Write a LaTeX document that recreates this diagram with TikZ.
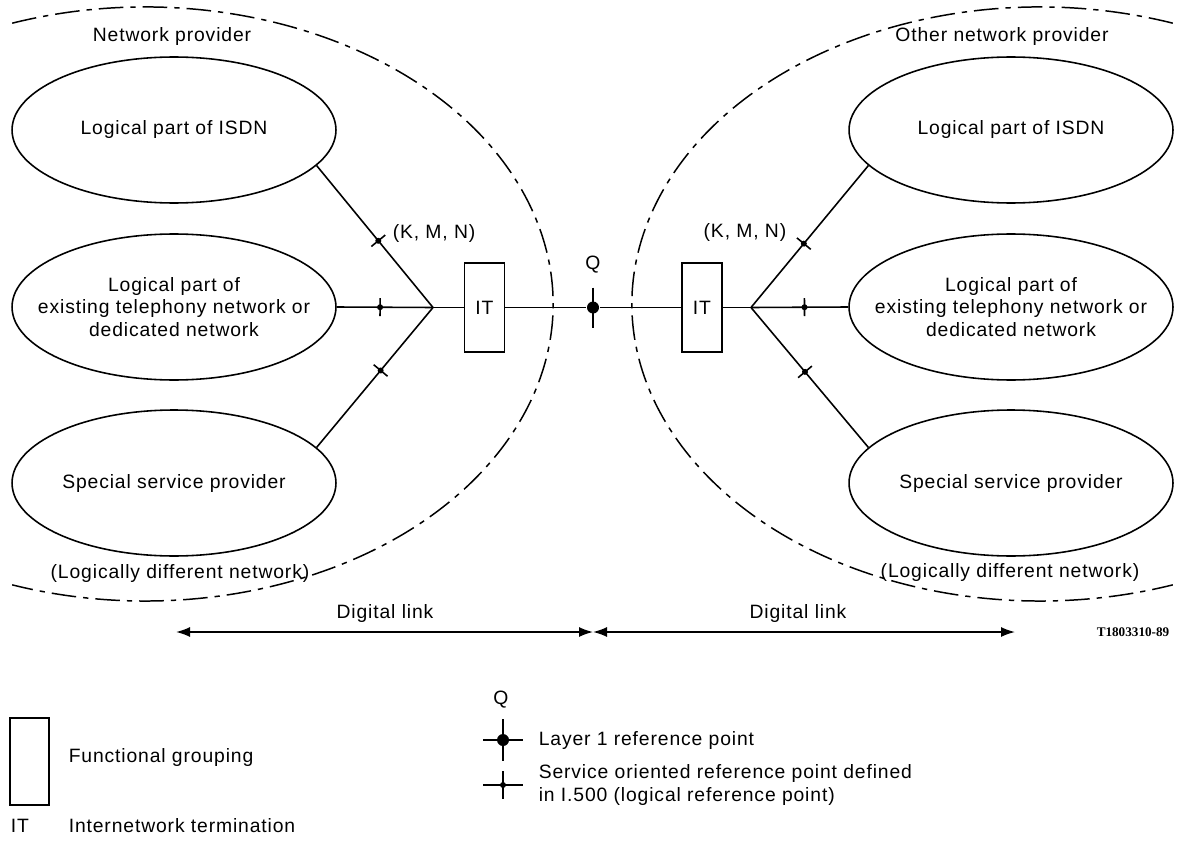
\documentclass[tikz,border=0pt]{standalone}
\usepackage{fontspec}
\setmainfont{Liberation Sans}[LetterSpace=4.5]
\newfontfamily\codefont{Liberation Serif}
\usetikzlibrary{shapes.geometric,arrows.meta}
\begin{document}
\begin{tikzpicture}[x=0.02cm,y=-0.02cm, line width=0.9pt,
  every node/.style={font=\fontsize{11}{12.8}\selectfont, inner sep=0pt},
  oval/.style={ellipse, draw, minimum width=6.48cm, minimum height=2.92cm},
  itbox/.style={draw, minimum width=0.8cm, minimum height=1.78cm},
  region/.style={dash pattern=on 14pt off 4pt on 3pt off 4pt, line width=0.85pt},
  srp/.pic={\draw[line width=0.9pt] (0,-0.18cm) -- (0,0.18cm); \fill (0,0) circle[radius=0.06cm];},
  qdot/.style={circle, fill, minimum size=0.24cm},
  dlink/.style={{Latex[length=0.28cm,width=0.2cm]}-{Latex[length=0.28cm,width=0.2cm]}}
]
\useasboundingbox (0,0) rectangle (1182,841);

% network regions
\draw[region] (12.2,23.2) arc[start angle=-109, end angle=109, x radius=408, y radius=297];
\draw[region] (1172.8,23.2) arc[start angle=-71, end angle=-289, x radius=408, y radius=297];
\node (npL) at (172,37) {Network provider};
\node (npR) at (1002,37) {Other network provider};
\node (ldL) at (180,573) {(Logically different network)};
\node (ldR) at (1010,572) {(Logically different network)};

% left network
\node[oval, label={[align=center]center:Logical part of ISDN}] (isdnL) at (174,130) {};
\node[oval, label={[align=center]center:Logical part of\\existing telephony network or\\dedicated network}] (telL) at (174,307) {};
\node[oval, label={[align=center]center:Special service provider}] (sspL) at (174,483) {};
% right network
\node[oval, label={[align=center]center:Logical part of ISDN}] (isdnR) at (1011,130) {};
\node[oval, label={[align=center]center:Logical part of\\existing telephony network or\\dedicated network}] (telR) at (1011,307) {};
\node[oval, label={[align=center]center:Special service provider}] (sspR) at (1011,483) {};

\node[itbox] (itL) at (484.5,307.5) {IT};
\node[itbox] (itR) at (702,307.5) {IT};
\coordinate (jL) at (433,307.5);
\coordinate (jR) at (751,307.5);
\node[qdot] (Q) at (593,307.5) {};
\node (qlab) at (593,265) {Q};

\draw (jL) -- (isdnL.-14.5) pic[pos=0.47,sloped]{srp};
\draw (jL) -- (telL.east) pic[pos=0.55,sloped]{srp};
\draw (jL) -- (sspL.14) pic[pos=0.45,sloped]{srp};
\draw (jR) -- (isdnR.194.5) pic[pos=0.45,sloped]{srp};
\draw (jR) -- (telR.west) pic[pos=0.55,sloped]{srp};
\draw (jR) -- (sspR.166) pic[pos=0.46,sloped]{srp};

\draw (jL) -- (itL.west);
\draw (itL.east) -- (Q) -- (itR.west);
\draw (itR.east) -- (jR);
\draw (Q.center) ++(0,-20) -- ++(0,40);

\node[anchor=west] (kmnL) at (392,233) {(K, M, N)};
\node[anchor=east] (kmnR) at (787,232) {(K, M, N)};

% digital links
\coordinate (dA) at (176,632);
\coordinate (dB) at (593,632);
\coordinate (dC) at (1015,632);
\draw[dlink] (dA) -- (dB);
\draw[dlink] (dB) -- (dC);
\node (dl1) at (385,613) {Digital link};
\node (dl2) at (798,613) {Digital link};
\node[font={\codefont\bfseries\fontsize{7.5}{9}\selectfont}] (code) at (1133,632) {T1803310-89};

% legend
\node[draw, minimum width=0.78cm, minimum height=1.74cm] (fg) at (29.5,761.5) {};
\node[anchor=west] (fgt) at (68,757) {Functional grouping};
\node[anchor=west] (itl) at (10,826) {IT};
\node[anchor=west] (itt) at (68,826) {Internetwork termination};

\node (qleg) at (501,700) {Q};
\node[qdot] (l1) at (503,740) {};
\draw (l1.center) ++(-20,0) -- ++(40,0);
\draw (l1.center) ++(0,-21) -- ++(0,42);
\node[anchor=west] (l1t) at (538,740) {Layer 1 reference point};
\coordinate (l2) at (503,785);
\draw (l2) ++(-20,0) -- ++(40,0);
\draw (l2) ++(0,-14) -- ++(0,28);
\fill (l2) circle[radius=0.06cm];
\node[anchor=west, align=left] (l2t) at (538,785) {Service oriented reference point defined\\in I.500 (logical reference point)};
\end{tikzpicture}
\end{document}
